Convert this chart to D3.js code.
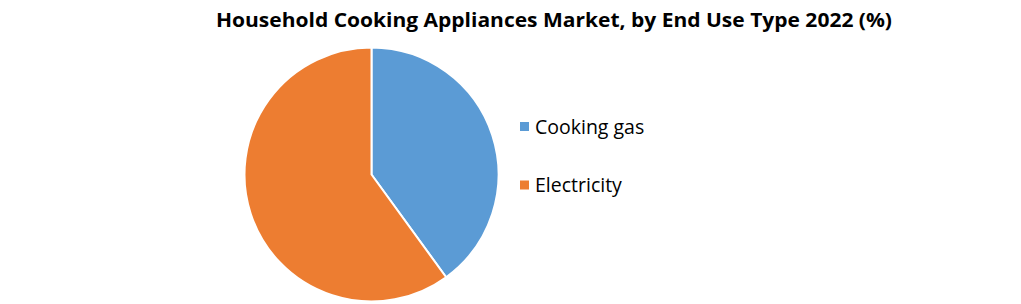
<!DOCTYPE html>
<html>
<head>
<meta charset="utf-8">
<script src="https://cdn.jsdelivr.net/npm/d3@7"></script>
<style>
  body { margin: 0; background: #fff; }
  text { font-family: "Open Sans", "Liberation Sans", sans-serif; }
</style>
</head>
<body>
<div id="chart"></div>
<script>
// data
var categories = ["Cooking gas", "Electricity"];
var shares = [40, 60];
var colors = ["#5B9BD5", "#ED7D31"];

var width = 1021, height = 304;

//Make an SVG Container
var svg = d3.select("#chart").append("svg")
  .attr("width", width)
  .attr("height", height);

//Title
svg.append("text")
  .attr("x", 554)
  .attr("y", 27)
  .attr("text-anchor", "middle")
  .attr("font-size", 20)
  .attr("font-weight", "bold")
  .attr("textLength", 676)
  .attr("lengthAdjust", "spacingAndGlyphs")
  .text("Household Cooking Appliances Market, by End Use Type 2022 (%)");

//Pie
var pie = d3.pie().sort(null).value(function(d) { return d; });
var arc = d3.arc().innerRadius(0).outerRadius(127);
var color = d3.scaleOrdinal().domain(categories).range(colors);

var g = svg.append("g").attr("transform", "translate(371.5,174.5)");
g.selectAll("path")
  .data(pie(shares))
  .enter().append("path")
  .attr("d", arc)
  .attr("fill", function(d, i) { return color(categories[i]); })
  .attr("stroke", "#fff")
  .attr("stroke-width", 2);

//Legend
var legend = svg.append("g").attr("transform", "translate(520,122)");
var item = legend.selectAll("g")
  .data(categories)
  .enter().append("g")
  .attr("transform", function(d, i) { return "translate(0," + (i * 58.5) + ")"; });
item.append("rect")
  .attr("width", 9)
  .attr("height", 9)
  .attr("fill", function(d) { return color(d); });
item.append("text")
  .attr("x", 15)
  .attr("y", 11.5)
  .attr("font-size", 19.5)
  .attr("fill", "#000")
  .text(function(d) { return d; });
</script>
</body>
</html>
